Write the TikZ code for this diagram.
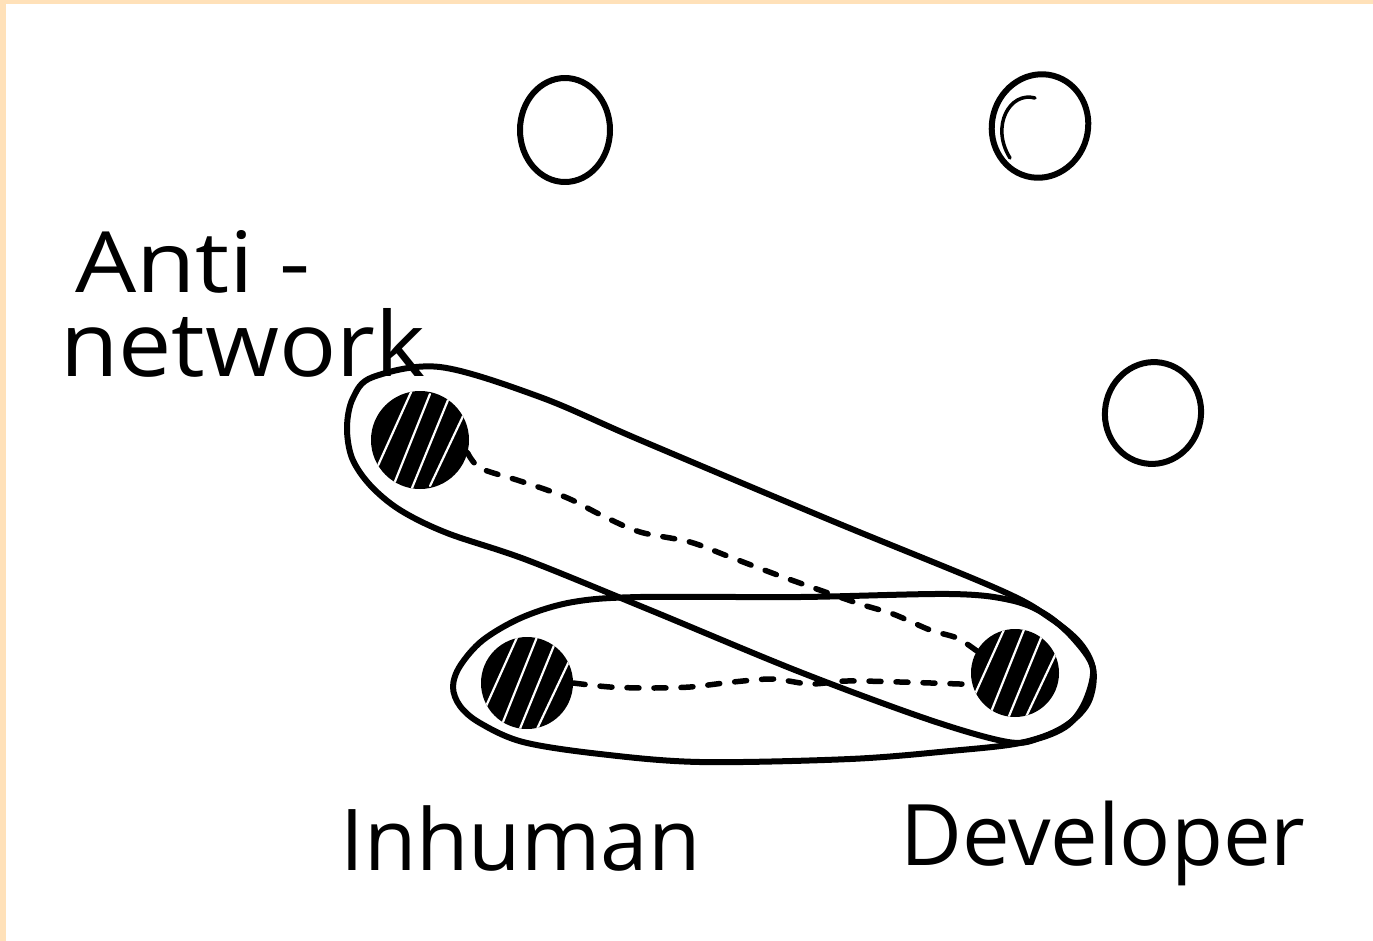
\documentclass[tikz,border=0pt]{standalone}
\usepackage{fontspec}
\setmainfont{Open Sans}
\usepackage{graphicx}
\usetikzlibrary{calc,shapes.geometric}
\definecolor{beige}{RGB}{255,225,185}
\tikzset{
  ink/.style={line width=6pt, line cap=round, line join=round, draw=black},
  dots/.style={ink, line width=5.5pt, dash pattern=on 12pt off 15pt},
  openc/.style={ink, ellipse, inner sep=0pt},
  hatch/.style={white, line width=2.2pt, line cap=round},
  filled/.style={circle, fill=black, inner sep=0pt,
    path picture={
      \draw[hatch] ($(path picture bounding box.center)+(-44,30)$) -- ($(path picture bounding box.center)+(-8,-50)$);
      \draw[hatch] ($(path picture bounding box.center)+(-26,44)$) -- ($(path picture bounding box.center)+(10,-46)$);
      \draw[hatch] ($(path picture bounding box.center)+(-8,48)$) -- ($(path picture bounding box.center)+(28,-40)$);
      \draw[hatch] ($(path picture bounding box.center)+(10,46)$) -- ($(path picture bounding box.center)+(44,-26)$);
    }},
  lab/.style={anchor=base west, inner sep=0pt}
}
\begin{document}
\begin{tikzpicture}[x=1pt,y=-1pt]
\useasboundingbox (0,0) rectangle (1373,940);
\fill[beige] (-5,-5) rectangle (1380,950);
\fill[white] (6,4) rectangle (1380,950);

% open circles
\node[openc, minimum width=90pt, minimum height=104pt] (o1) at (565,130) {};
\node[openc, minimum width=96pt, minimum height=104pt, rotate=-15] (o2) at (1040,126) {};
\node[openc, minimum width=96pt, minimum height=102pt, rotate=-10] (o3) at (1153,413) {};
\draw[ink, line width=3.5pt] ($(o2.center)+(-30,32)$) .. controls ($(o2.center)+(-50,0)$) and ($(o2.center)+(-30,-35)$) .. ($(o2.center)+(-5,-28)$);

% long tilted loop
\draw[ink] plot[smooth cycle, tension=0.55] coordinates {
  (373,377) (440,367) (540,397) (640,440) (830,520) (1000,590)
  (1050,618) (1080,643) (1093,670) (1085,702) (1068,725) (1040,738) (1008,742)
  (930,720) (800,672) (650,610) (527,560)
  (447,533) (400,510) (370,485) (352,458) (347,427) (353,398)};

% horizontal loop
\draw[ink] plot[smooth cycle, tension=0.55] coordinates {
  (573,602) (640,597) (800,597) (950,594) (1010,600) (1045,614) (1073,638)
  (1093,668) (1088,703) (1062,728) (1020,743) (950,751) (850,759)
  (700,762) (600,754) (523,742) (480,723) (460,706) (453,687) (460,666)
  (483,640) (523,617)};

% filled nodes
\node[filled, minimum size=98pt] (n1) at (420,440) {};
\node[filled, minimum size=92pt] (n2) at (527,683) {};
\node[filled, minimum size=88pt] (n3) at (1015,673) {};

% dashed connectors
\draw[dots] plot[smooth] coordinates {(n1.-15) (480,468) (517,480) (547,490)
  (572,500) (603,516) (640,532) (690,542) (730,557) (783,577)
  (857,603) (893,614) (930,630) (957,638) (n3.150)};
\draw[dots] plot[smooth] coordinates {(n2.0) (610,687) (650,688) (690,687)
  (733,682) (773,679) (810,684) (847,681) (900,682) (n3.195)};

% labels
\node[lab] (t1) at (75,292) {\resizebox{235pt}{62pt}{Anti -}};
\node[lab] (t2) at (60,376) {\resizebox{365pt}{68pt}{network}};
\node[lab] (t3) at (340,870) {\resizebox{360pt}{!}{Inhuman}};
\node[lab] (t4) at (900,865) {\resizebox{405pt}{!}{Developer}};
\end{tikzpicture}
\end{document}
